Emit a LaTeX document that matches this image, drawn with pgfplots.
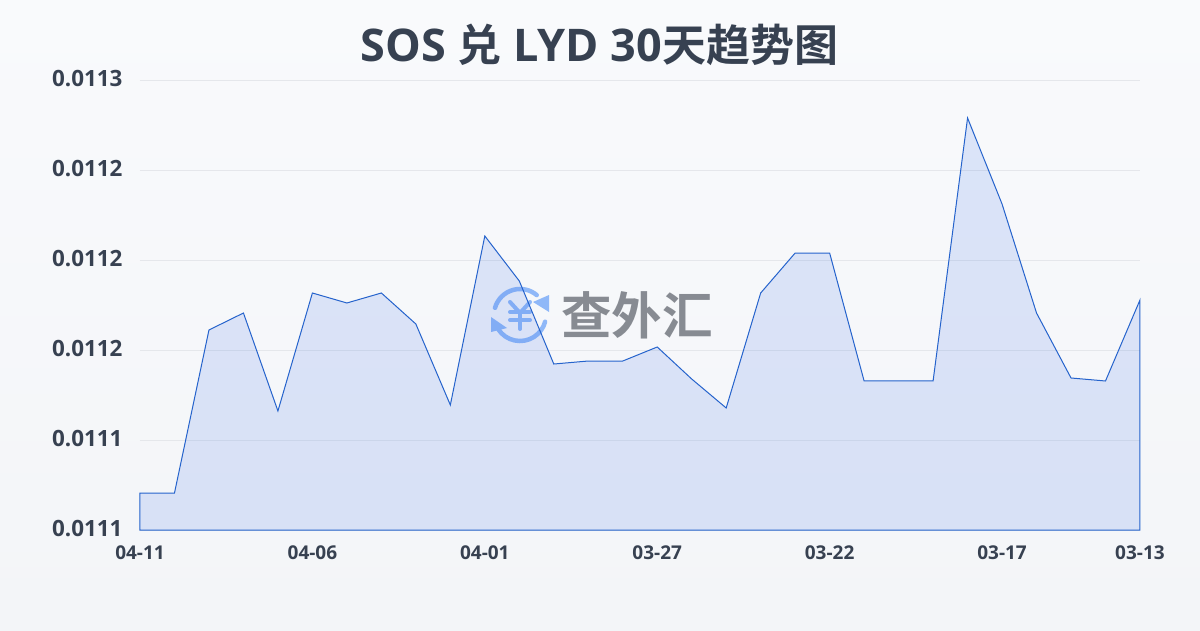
\documentclass[border=0pt]{standalone}
\usepackage{pgfplots}
\pgfplotsset{compat=1.18}
\usepackage{fontspec}
\setmainfont{Open Sans}
\newfontfamily\cjk{Noto Sans CJK SC}[BoldFont={Noto Sans CJK SC Bold}]
\definecolor{txt}{HTML}{374151}
\definecolor{gridc}{HTML}{E5E7EB}
\definecolor{linec}{HTML}{2563CC}
\definecolor{fillc}{HTML}{3B6FE8}
\definecolor{logoc}{HTML}{8FB8F8}
\definecolor{logot}{HTML}{878B92}
\definecolor{bgtop}{HTML}{F9FAFC}
\definecolor{bgbot}{HTML}{F3F5F8}
\begin{document}
\begin{tikzpicture}[x=1pt,y=1pt]
\shade[top color=bgtop,bottom color=bgbot] (-140,-100) rectangle (1060,530);
\node[font=\bfseries\fontsize{45}{45}\selectfont,text=txt] at (459.5,485) {SOS {\cjk\bfseries\fontsize{44}{44}\selectfont 兑} LYD 30{\cjk\bfseries\fontsize{44}{44}\selectfont 天趋势图}};
% watermark
\begin{scope}[shift={(380,215)}]
\draw[logoc,line width=4.5pt,line cap=round] (164:26) arc (164:50:26);
\draw[logoc,line width=4.5pt,line cap=round] (213:26) arc (213:345:26);
\fill[logoc] (13,13) -- (29,20) -- (29,3) -- cycle;
\fill[logoc] (-29,-2) -- (-13,-13) -- (-29,-17) -- cycle;
\draw[logoc,line width=4pt,line cap=round,line join=round] (-10,13) -- (0,2) -- (10,13);
\draw[logoc,line width=4pt,line cap=round] (-10,3) -- (10,3) (-10,-5) -- (10,-5) (0,2) -- (0,-14);
\end{scope}
\node[font=\cjk\bfseries\fontsize{50.5}{50.5}\selectfont,text=logot,anchor=west] at (417.5,215) {查外汇};
\begin{axis}[
  at={(0,0)},anchor=south west,
  scale only axis,width=1000pt,height=450pt,
  xmin=0,xmax=29,ymin=0.0111,ymax=0.01125,
  scaled y ticks=false,
  axis line style={draw=none},
  tick style={draw=none},
  xtick={0,5,10,15,20,25,29},
  xticklabels={04-11,04-06,04-01,03-27,03-22,03-17,03-13},
  ytick={0.0111,0.01113,0.01116,0.01119,0.01122,0.01125},
  yticklabels={0.0111,0.0111,0.0112,0.0112,0.0112,0.0113},
  ymajorgrids,
  grid style={gridc,line width=0.7pt},
  x tick label style={font=\bfseries\fontsize{19}{19}\selectfont,text=txt,yshift=-12pt},
  y tick label style={font=\bfseries\fontsize{22.4}{22.4}\selectfont,text=txt,xshift=-14pt,yshift=1pt},
  clip=false,
]
\addplot[draw=linec,line width=1pt,fill=fillc,fill opacity=0.15,draw opacity=1] coordinates {
(0,0.01111233)(1,0.01111233)(2,0.01116667)(3,0.01117233)(4,0.01113967)(5,0.011179)
(6,0.01117567)(7,0.011179)(8,0.01116867)(9,0.01114167)(10,0.011198)(11,0.011183)
(12,0.01115533)(13,0.01115633)(14,0.01115633)(15,0.011161)(16,0.01115033)(17,0.01114067)
(18,0.011179)(19,0.01119233)(20,0.01119233)(21,0.01114967)(22,0.01114967)(23,0.01114967)
(24,0.01123733)(25,0.01120867)(26,0.01117233)(27,0.01115067)(28,0.01114967)(29,0.01117667)
} \closedcycle;
\end{axis}
\end{tikzpicture}
\end{document}
